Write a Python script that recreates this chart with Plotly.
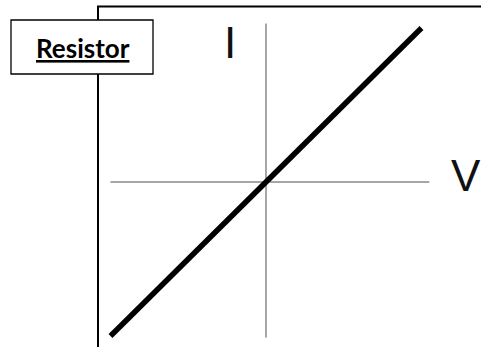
import plotly.graph_objects as go

# Data: ideal resistor I-V characteristic (I proportional to V)
voltage = [-1.0, 1.0]
current = [-1.0, 1.0]
# Extents of the drawn V and I axes (data units)
v_axis_extent = [-1.0, 1.05]
i_axis_extent = [-1.01, 1.03]
title_text = "Resistor"
x_label = "V"
y_label = "I"

W, H = 481, 347
fig = go.Figure()

# Gray axes
fig.add_trace(go.Scatter(x=v_axis_extent, y=[0, 0], mode="lines",
                         line=dict(color="#a6a6a6", width=2), hoverinfo="skip"))
fig.add_trace(go.Scatter(x=[0, 0], y=i_axis_extent, mode="lines",
                         line=dict(color="#a6a6a6", width=2), hoverinfo="skip"))
# Characteristic line
fig.add_trace(go.Scatter(x=voltage, y=current, mode="lines",
                         line=dict(color="black", width=5.5), hoverinfo="skip"))

def px(x):
    return x / W

def py(y):
    return 1 - y / H

shapes = [
    # outer frame (top and left visible)
    dict(type="rect", xref="paper", yref="paper", x0=px(98), x1=px(520),
         y0=py(380), y1=py(6.5), line=dict(color="black", width=2), layer="above"),
    # title box
    dict(type="rect", xref="paper", yref="paper", x0=px(11), x1=px(153),
         y0=py(74), y1=py(20), line=dict(color="black", width=1.3),
         fillcolor="white", layer="above"),
]

annotations = [
    dict(text="<b><u>" + title_text + "</u></b>", xref="paper", yref="paper",
         x=px(82.5), y=py(48), xanchor="center", yanchor="middle", showarrow=False,
         font=dict(family="Lato", size=26, color="black")),
    dict(text=y_label, xref="paper", yref="paper", x=px(230), y=py(42),
         xanchor="center", yanchor="middle", showarrow=False,
         font=dict(family="Liberation Sans", size=44, color="#111111")),
    dict(text=x_label, xref="paper", yref="paper", x=px(466), y=py(175),
         xanchor="center", yanchor="middle", showarrow=False,
         font=dict(family="Liberation Sans", size=44, color="#111111")),
]

sx = 155.5
sy = 154.0
cx, cy = 266, 182
fig.update_layout(
    width=W, height=H, margin=dict(l=0, r=0, t=0, b=0),
    paper_bgcolor="white", plot_bgcolor="white", showlegend=False,
    xaxis=dict(range=[(0 - cx) / sx, (W - cx) / sx], visible=False, fixedrange=True),
    yaxis=dict(range=[-(H - cy) / sy, cy / sy], visible=False, fixedrange=True),
    shapes=shapes, annotations=annotations,
)

fig.write_html(
    "out.html",
    config={"displayModeBar": False},
    post_script="document.body.style.margin='0';document.body.style.overflow='hidden';",
)
